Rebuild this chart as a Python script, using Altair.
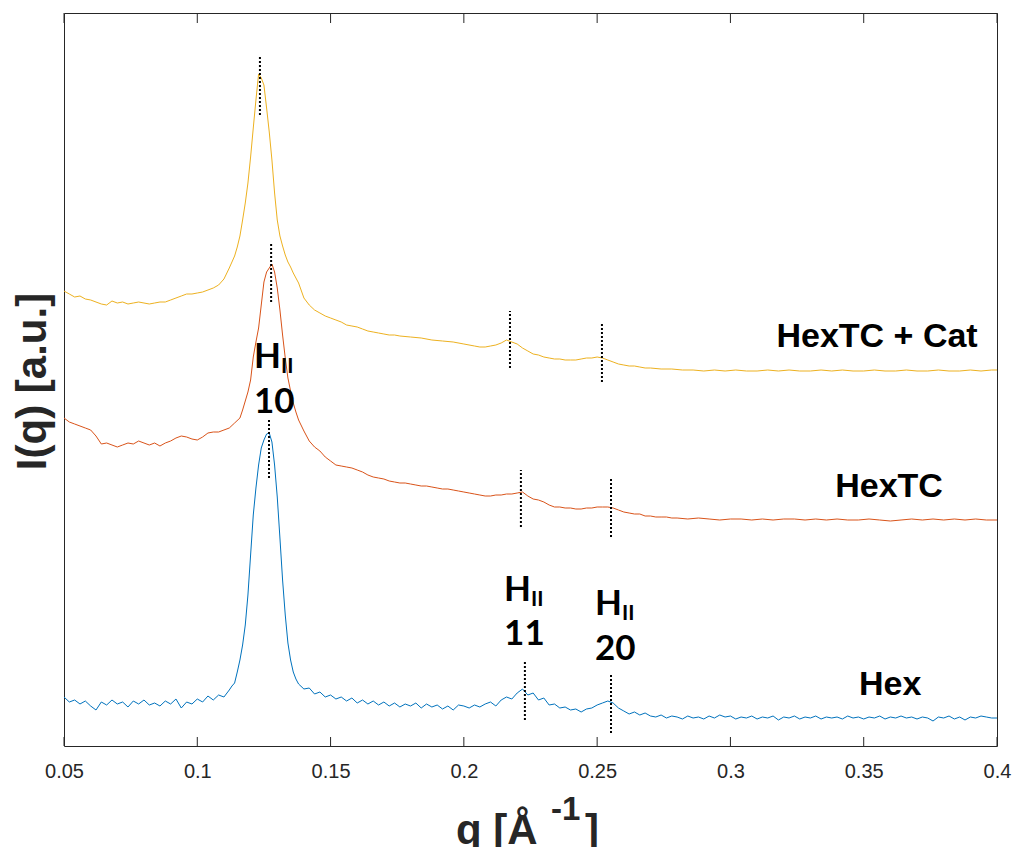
import altair as alt
import pandas as pd

# ---------------- data (q in 1/Å, intensity in arbitrary units) ----------------
hex_q = [0.050, 0.052, 0.054, 0.056, 0.058, 0.060, 0.062, 0.064, 0.066, 0.068,
         0.070, 0.072, 0.074, 0.076, 0.078, 0.080, 0.082, 0.084, 0.086, 0.088,
         0.090, 0.092, 0.094, 0.096, 0.098, 0.100, 0.102, 0.104, 0.106, 0.108,
         0.110, 0.112, 0.113, 0.114, 0.115, 0.116, 0.117, 0.118, 0.119, 0.120,
         0.121, 0.122, 0.123, 0.124, 0.125, 0.126, 0.127, 0.128, 0.129, 0.130,
         0.131, 0.132, 0.133, 0.134, 0.135, 0.136, 0.137, 0.138, 0.140, 0.142,
         0.144, 0.146, 0.148, 0.150, 0.152, 0.154, 0.156, 0.158, 0.160, 0.162,
         0.164, 0.166, 0.168, 0.170, 0.172, 0.174, 0.176, 0.178, 0.180, 0.182,
         0.184, 0.186, 0.188, 0.190, 0.192, 0.194, 0.196, 0.198, 0.200, 0.202,
         0.204, 0.206, 0.208, 0.210, 0.212, 0.214, 0.216, 0.218, 0.220, 0.222,
         0.224, 0.226, 0.228, 0.230, 0.232, 0.234, 0.236, 0.238, 0.240, 0.242,
         0.244, 0.246, 0.248, 0.250, 0.252, 0.254, 0.256, 0.258, 0.260, 0.262,
         0.264, 0.266, 0.268, 0.270, 0.272, 0.274, 0.276, 0.278, 0.280, 0.282,
         0.284, 0.286, 0.288, 0.290, 0.292, 0.294, 0.296, 0.298, 0.300, 0.302,
         0.304, 0.306, 0.308, 0.310, 0.312, 0.314, 0.316, 0.318, 0.320, 0.322,
         0.324, 0.326, 0.328, 0.330, 0.332, 0.334, 0.336, 0.338, 0.340, 0.342,
         0.344, 0.346, 0.348, 0.350, 0.352, 0.354, 0.356, 0.358, 0.360, 0.362,
         0.364, 0.366, 0.368, 0.370, 0.372, 0.374, 0.376, 0.378, 0.380, 0.382,
         0.384, 0.386, 0.388, 0.390, 0.392, 0.394, 0.396, 0.398, 0.400]
hex_i = [49, 44, 46, 42, 45, 40, 36, 44, 41, 46,
         42, 44, 39, 45, 42, 46, 41, 43, 40, 45,
         42, 47, 38, 44, 42, 47, 44, 50, 46, 51,
         49, 56, 60, 63, 74, 86, 101, 121, 151, 191,
         231, 258, 281, 298, 306, 312, 313, 304, 281, 249,
         208, 166, 131, 103, 86, 74, 67, 62, 57, 58,
         52, 54, 49, 51, 47, 49, 45, 48, 43, 46,
         42, 45, 41, 44, 40, 43, 39, 42, 40, 43,
         38, 42, 39, 41, 37, 40, 36, 41, 40, 38,
         41, 39, 42, 44, 40, 46, 49, 47, 53, 57,
         51, 53, 46, 48, 41, 42, 38, 39, 36, 37,
         34, 37, 38, 41, 43, 45, 43, 38, 35, 32,
         34, 31, 33, 30, 29, 31, 28, 30, 29, 27,
         30, 28, 29, 27, 30, 28, 31, 29, 30, 27,
         29, 28, 30, 27, 29, 28, 30, 26, 29, 28,
         30, 27, 29, 28, 30, 27, 29, 28, 29, 27,
         30, 28, 29, 27, 29, 28, 30, 27, 29, 28,
         30, 28, 29, 27, 29, 28, 25, 29, 28, 30,
         27, 29, 26, 29, 28, 30, 29, 28, 28]

hextc_q = [0.050, 0.052, 0.054, 0.056, 0.058, 0.060, 0.062, 0.064, 0.066, 0.068,
           0.070, 0.072, 0.074, 0.076, 0.078, 0.080, 0.082, 0.084, 0.086, 0.088,
           0.090, 0.092, 0.094, 0.096, 0.098, 0.100, 0.102, 0.104, 0.106, 0.108,
           0.110, 0.112, 0.114, 0.116, 0.117, 0.118, 0.119, 0.120, 0.121, 0.122,
           0.123, 0.124, 0.125, 0.126, 0.127, 0.128, 0.129, 0.130, 0.131, 0.132,
           0.133, 0.134, 0.135, 0.136, 0.137, 0.138, 0.140, 0.142, 0.144, 0.146,
           0.148, 0.150, 0.152, 0.154, 0.156, 0.158, 0.160, 0.162, 0.164, 0.166,
           0.168, 0.170, 0.172, 0.174, 0.176, 0.178, 0.180, 0.182, 0.184, 0.186,
           0.188, 0.190, 0.192, 0.194, 0.196, 0.198, 0.200, 0.202, 0.204, 0.206,
           0.208, 0.210, 0.212, 0.214, 0.216, 0.218, 0.220, 0.222, 0.224, 0.226,
           0.228, 0.230, 0.232, 0.234, 0.236, 0.238, 0.240, 0.242, 0.244, 0.246,
           0.248, 0.250, 0.252, 0.254, 0.256, 0.258, 0.260, 0.262, 0.264, 0.266,
           0.268, 0.270, 0.272, 0.274, 0.276, 0.278, 0.280, 0.284, 0.288, 0.292,
           0.296, 0.300, 0.304, 0.308, 0.312, 0.316, 0.320, 0.324, 0.328, 0.332,
           0.336, 0.340, 0.344, 0.348, 0.352, 0.356, 0.360, 0.364, 0.368, 0.372,
           0.376, 0.380, 0.384, 0.388, 0.392, 0.396, 0.400]
hextc_i = [328, 324, 322, 320, 318, 316, 310, 302, 303, 301,
           299, 301, 303, 302, 305, 303, 301, 303, 300, 303,
           305, 308, 310, 309, 307, 306, 309, 313, 314, 314,
           316, 318, 323, 328, 336, 345, 354, 366, 389, 404,
           418, 441, 464, 474, 478, 482, 474, 458, 436, 411,
           388, 368, 355, 343, 334, 326, 315, 305, 299, 295,
           289, 285, 281, 280, 279, 278, 276, 274, 271, 269,
           268, 267, 265, 264, 263, 263, 262, 261, 260, 260,
           259, 258, 257, 257, 256, 255, 254, 253, 252, 251,
           250, 250, 251, 251, 252, 252, 253, 254, 250, 247,
           246, 244, 241, 239, 239, 238, 238, 237, 237, 238,
           238, 239, 239, 239, 238, 236, 234, 233, 232, 232,
           230, 230, 229, 229, 229, 228, 228, 227, 228, 227,
           226, 227, 227, 226, 227, 226, 227, 227, 226, 227,
           226, 227, 226, 226, 227, 226, 225, 226, 227, 226,
           227, 226, 227, 226, 227, 226, 226]

cat_q = [0.050, 0.052, 0.054, 0.056, 0.058, 0.060, 0.062, 0.064, 0.066, 0.068,
         0.070, 0.072, 0.074, 0.076, 0.078, 0.080, 0.082, 0.084, 0.086, 0.088,
         0.090, 0.092, 0.094, 0.096, 0.098, 0.100, 0.102, 0.104, 0.106, 0.108,
         0.110, 0.112, 0.113, 0.114, 0.115, 0.116, 0.117, 0.118, 0.119, 0.120,
         0.121, 0.122, 0.123, 0.124, 0.125, 0.126, 0.127, 0.128, 0.129, 0.130,
         0.131, 0.132, 0.133, 0.134, 0.135, 0.136, 0.137, 0.138, 0.140, 0.142,
         0.144, 0.146, 0.148, 0.150, 0.152, 0.154, 0.156, 0.158, 0.160, 0.162,
         0.164, 0.166, 0.168, 0.170, 0.172, 0.174, 0.176, 0.180, 0.184, 0.188,
         0.192, 0.196, 0.200, 0.204, 0.206, 0.208, 0.210, 0.212, 0.214, 0.216,
         0.218, 0.220, 0.222, 0.224, 0.226, 0.228, 0.230, 0.232, 0.234, 0.236,
         0.238, 0.240, 0.242, 0.244, 0.246, 0.248, 0.250, 0.252, 0.254, 0.256,
         0.258, 0.260, 0.262, 0.264, 0.266, 0.268, 0.270, 0.274, 0.278, 0.282,
         0.286, 0.290, 0.294, 0.298, 0.302, 0.306, 0.310, 0.314, 0.318, 0.322,
         0.326, 0.330, 0.334, 0.338, 0.342, 0.346, 0.350, 0.354, 0.358, 0.362,
         0.366, 0.370, 0.374, 0.378, 0.382, 0.386, 0.390, 0.394, 0.398, 0.400]
cat_i = [455, 452, 449, 450, 447, 446, 444, 442, 441, 445,
         443, 444, 442, 443, 444, 443, 442, 443, 444, 444,
         446, 448, 450, 452, 452, 453, 454, 456, 458, 461,
         467, 478, 484, 490, 499, 510, 526, 543, 563, 589,
         618, 646, 672, 668, 661, 638, 614, 586, 553, 526,
         510, 500, 491, 484, 479, 473, 468, 463, 448, 441,
         436, 433, 430, 428, 426, 424, 421, 420, 419, 417,
         415, 414, 413, 412, 411, 411, 410, 409, 408, 406,
         405, 404, 402, 400, 399, 399, 400, 401, 403, 406,
         404, 402, 398, 395, 392, 391, 389, 388, 387, 387,
         386, 386, 386, 387, 388, 388, 389, 388, 386, 384,
         382, 381, 380, 380, 379, 378, 378, 377, 377, 376,
         376, 375, 376, 375, 376, 375, 375, 376, 375, 376,
         375, 375, 376, 375, 376, 375, 375, 376, 375, 375,
         376, 375, 375, 376, 375, 375, 376, 375, 376, 376]

series_names = ["Hex", "HexTC", "HexTC + Cat"]
series_colors = ["#0072BD", "#D95319", "#EDB120"]

# curve name labels
name_text = ["HexTC + Cat", "HexTC", "Hex"]
name_q = [0.3550, 0.3595, 0.3599]
name_i = [399, 249, 51]

# dotted peak markers
peak_q = [0.1235, 0.2173, 0.2518, 0.1277, 0.2214, 0.2552, 0.1269, 0.2229, 0.2552]
peak_lo = [631, 378, 364, 444, 219, 209, 268, 26, 13]
peak_hi = [691, 435, 423, 503, 276, 268, 326, 84, 71]

# H_II reflection labels
hkl_text = ["10", "11", "20"]
hkl_q = [0.1213, 0.2151, 0.2492]
hkl_h_i = [378, 145, 131]
hkl_sub_q = [0.1314, 0.2252, 0.2593]
hkl_sub_i = [373, 140, 126]
hkl_num_i = [333, 101, 86]

tick_values = [0.05, 0.1, 0.15, 0.2, 0.25, 0.3, 0.35, 0.4]

# ---------------- tables ----------------
frames = []
for name, qs, vals in zip(series_names, [hex_q, hextc_q, cat_q], [hex_i, hextc_i, cat_i]):
    frames.append(pd.DataFrame({"q": qs, "I": vals, "series": name}))
curves = pd.concat(frames, ignore_index=True)

names_df = pd.DataFrame({"label": name_text, "q": name_q, "I": name_i})
peaks_df = pd.DataFrame({"q": peak_q, "I": peak_lo, "hi": peak_hi})
hkl_df = pd.DataFrame({"num": hkl_text, "q": hkl_q, "hI": hkl_h_i,
                       "sq": hkl_sub_q, "sI": hkl_sub_i, "nI": hkl_num_i})
ticks_df = pd.DataFrame({"q": tick_values})

x_scale = alt.Scale(domain=[0.05, 0.4], nice=False, zero=False)
y_scale = alt.Scale(domain=[0, 733], nice=False, zero=False)
FONT = "Liberation Sans"
AX = "#262626"

x_axis = alt.Axis(
    values=tick_values, format=".2~f", title=None, ticks=False, tickSize=0,
    domain=False, grid=False, labelFont=FONT, labelFontSize=20,
    labelColor=AX, labelPadding=31, labelBaseline="alphabetic",
    labelFlush=False, labelOverlap=False)
y_axis = alt.Axis(
    title="I(q) [a.u.]", labels=False, ticks=False, domain=False, grid=False,
    titleFont=FONT, titleFontSize=42, titleFontWeight="bold", titleColor=AX,
    titleAngle=270, titleAlign="center", titleBaseline="alphabetic",
    titleX=-19, titleY=368)


def X(field):
    return alt.X(field, scale=x_scale, axis=x_axis, title=None)


def Y(field):
    return alt.Y(field, scale=y_scale, axis=y_axis, title="I(q) [a.u.]")


lines = alt.Chart(curves).mark_line(strokeWidth=1, clip=True).encode(
    x=X("q:Q"),
    y=Y("I:Q"),
    color=alt.Color("series:N", scale=alt.Scale(domain=series_names, range=series_colors),
                    legend=None),
)

peaks = alt.Chart(peaks_df).mark_rule(color="black", strokeWidth=2, strokeDash=[2, 2]).encode(
    x=X("q:Q"),
    y=Y("I:Q"),
    y2="hi:Q",
)

bottom_ticks = alt.Chart(ticks_df).mark_rule(color=AX, strokeWidth=1).encode(
    x=X("q:Q"),
    y=alt.value(724), y2=alt.value(733),
)
top_ticks = alt.Chart(ticks_df).mark_rule(color=AX, strokeWidth=1).encode(
    x=X("q:Q"),
    y=alt.value(0), y2=alt.value(10),
)

names = alt.Chart(names_df).mark_text(
    font=FONT, fontSize=34, fontWeight="bold", color="black",
    align="center", baseline="alphabetic").encode(
    x=X("q:Q"),
    y=Y("I:Q"),
    text="label:N",
)

HK_FONT = "Lato"
h_main = alt.Chart(hkl_df).mark_text(
    font=HK_FONT, fontSize=35, fontWeight="bold", color="black",
    align="left", baseline="alphabetic", text="H").encode(
    x=X("q:Q"),
    y=Y("hI:Q"),
)
h_sub = alt.Chart(hkl_df).mark_text(
    font=HK_FONT, fontSize=21, fontWeight="bold", color="black",
    align="left", baseline="alphabetic", text="II").encode(
    x=X("sq:Q"),
    y=Y("sI:Q"),
)
h_num = alt.Chart(hkl_df).mark_text(
    font=HK_FONT, fontSize=35, fontWeight="bold", color="black",
    align="left", baseline="alphabetic").encode(
    x=X("q:Q"),
    y=Y("nI:Q"),
    text="num:N",
)

# x-axis title "q [Å^-1]" built from pieces
xt_main = alt.Chart(pd.DataFrame({"t": ["q [Å"]})).mark_text(
    font=FONT, fontSize=42, fontWeight="bold", color=AX,
    align="left", baseline="alphabetic").encode(
    text="t:N", x=alt.value(392), y=alt.value(831))
xt_sup = alt.Chart(pd.DataFrame({"t": ["-1"]})).mark_text(
    font=FONT, fontSize=33, fontWeight="bold", color=AX,
    align="left", baseline="alphabetic").encode(
    text="t:N", x=alt.value(487), y=alt.value(807))
xt_end = alt.Chart(pd.DataFrame({"t": ["]"]})).mark_text(
    font=FONT, fontSize=42, fontWeight="bold", color=AX,
    align="left", baseline="alphabetic").encode(
    text="t:N", x=alt.value(521), y=alt.value(831))

chart = alt.layer(
    lines, peaks, bottom_ticks, top_ticks, names, h_main, h_sub, h_num,
    xt_main, xt_sup, xt_end
).properties(
    width=933, height=733,
    autosize=alt.AutoSizeParams(type="none"),
    padding={"left": 64, "top": 13, "right": 15, "bottom": 101},
    background="white",
).configure_view(stroke=AX, strokeWidth=1)

chart.save("out.html", embed_options={"renderer": "svg", "actions": False})
